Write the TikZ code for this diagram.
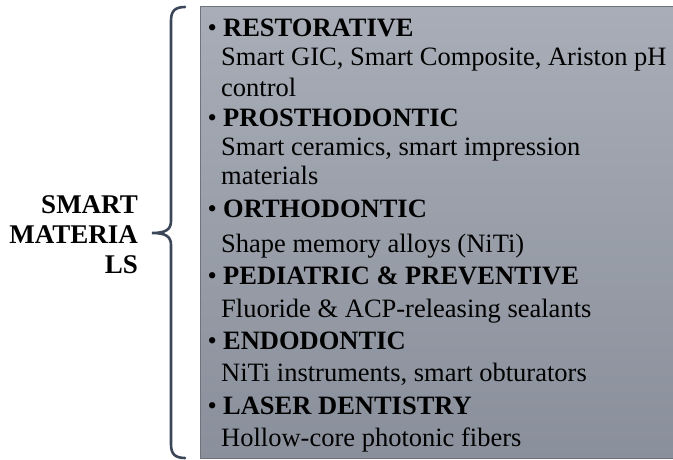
\documentclass[tikz,border=0pt]{standalone}
\usepackage{fontspec}
\setmainfont{Liberation Serif}
\definecolor{boxtop}{HTML}{A8ADB7}
\definecolor{boxbot}{HTML}{8A909B}
\definecolor{boxedge}{HTML}{70747A}
\definecolor{bracec}{HTML}{3B4659}
\begin{document}
\begin{tikzpicture}[x=1pt,y=1pt,
  txt/.style={anchor=base west, inner sep=0pt, text=black, font=\fontsize{26.5}{31}\selectfont},
  headtxt/.style={txt},
  bracestyle/.style={draw=bracec, line width=2.6pt, line cap=round},
  lbl/.style={anchor=base east, inner sep=0pt, text=black, font=\fontsize{27}{30}\selectfont\bfseries}]
\useasboundingbox (0,0) rectangle (673,459);
% box
\shade[top color=boxtop, bottom color=boxbot] (200,1) rectangle (676,452);
\draw[boxedge, line width=1pt] (676,452) -- (200,452) -- (200,1) -- (676,1);
% brace
\coordinate (btop) at (185,452);
\coordinate (bbot) at (185,1);
\coordinate (btip) at (152,226);
\draw[bracestyle] (btop) .. controls (174,452) and (171,447) .. (171,438)
  -- (171,238) .. controls (171,229) and (165,226) .. (btip)
  .. controls (165,226) and (171,223) .. (171,214)
  -- (171,15) .. controls (171,6) and (174,1) .. (bbot);
% label
\node[lbl] (label) at (138,246) {\begin{tabular}[t]{@{}r@{}}SMART\\MATERIA\\LS\end{tabular}};
% items
\node[headtxt] (h1) at (207.5,422) {•\hspace{6.2pt}\textbf{RESTORATIVE}};
\node[txt] (b1a) at (221,393) {Smart GIC, Smart Composite, Ariston pH};
\node[txt] (b1b) at (221,362) {control};
\node[headtxt] (h2) at (207.5,332) {•\hspace{6.2pt}\textbf{PROSTHODONTIC}};
\node[txt] (b2a) at (221,304) {Smart ceramics, smart impression};
\node[txt] (b2b) at (221,274) {materials};
\node[headtxt] (h3) at (207.5,242) {•\hspace{6.2pt}\textbf{ORTHODONTIC}};
\node[txt] (b3) at (221,207) {Shape memory alloys (NiTi)};
\node[headtxt] (h4) at (207.5,175) {•\hspace{6.2pt}\textbf{PEDIATRIC \& PREVENTIVE}};
\node[txt] (b4) at (221,142) {Fluoride \& ACP-releasing sealants};
\node[headtxt] (h5) at (207.5,110) {•\hspace{6.2pt}\textbf{ENDODONTIC}};
\node[txt] (b5) at (221,78) {NiTi instruments, smart obturators};
\node[headtxt] (h6) at (207.5,45) {•\hspace{6.2pt}\textbf{LASER DENTISTRY}};
\node[txt] (b6) at (221,13) {Hollow-core photonic fibers};
\end{tikzpicture}
\end{document}
